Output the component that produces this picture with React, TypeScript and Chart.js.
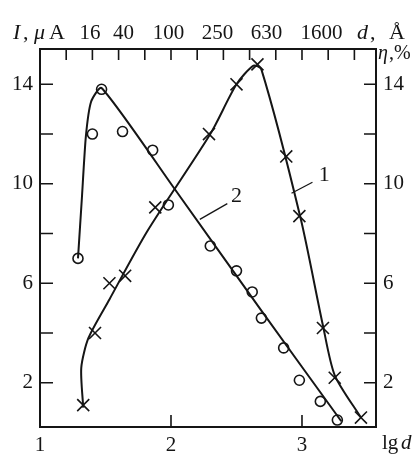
import React, { useEffect, useRef } from 'react';
import { Chart, registerables } from 'chart.js';

Chart.register(...registerables);

const INK = '#151515';
const SERIF = '"Liberation Serif", "DejaVu Serif", serif';

// Curve 1 — measured points (crosses)
const cross1X = [1.33, 1.42, 1.53, 1.65, 1.88, 2.29, 2.5, 2.66, 2.88, 2.98, 3.16, 3.25, 3.45];
const cross1Y = [1.1, 4.0, 6.0, 6.3, 9.05, 12.0, 14.0, 14.8, 11.1, 8.7, 4.2, 2.2, 0.6];
// Curve 1 — drawn line
const line1X = [1.33, 1.315, 1.37, 1.53, 1.82, 2.3, 2.5, 2.63, 2.69, 2.99, 3.16, 3.25, 3.45];
const line1Y = [1.0, 2.6, 3.8, 5.35, 8.1, 12.0, 14.0, 14.75, 14.6, 8.6, 4.3, 2.3, 0.6];

// Curve 2 — measured points (circles)
const circ2X = [1.29, 1.4, 1.47, 1.63, 1.86, 1.98, 2.3, 2.5, 2.62, 2.69, 2.86, 2.98, 3.14, 3.27];
const circ2Y = [7.0, 12.0, 13.8, 12.1, 11.35, 9.15, 7.5, 6.5, 5.65, 4.6, 3.4, 2.1, 1.25, 0.5];
// Curve 2 — drawn line
const line2X = [1.29, 1.32, 1.35, 1.39, 1.47, 2.02, 2.69, 3.3];
const line2Y = [7.0, 9.45, 11.9, 13.3, 13.85, 9.85, 4.9, 0.45];

// Axes
const X_MIN = 1;
const X_MAX = 3.565;
const Y_MIN = 0.22;
const Y_MAX = 15.42;
const yTickValues = [2, 4, 6, 8, 10, 12, 14];
const yLabelValues = [2, 6, 10, 14];
const xBottomLabels = [1, 2, 3];
const xBottomTickMarks = [2, 3];
const xTopTickMarks = [1.2, 1.4, 1.6, 1.8, 2.0, 2.2, 2.4, 2.6, 2.8, 3.0, 3.2, 3.4];
const topDLabels = ['16', '40', '100', '250', '630', '1600'];
const topDLabelCenters = [90, 123.5, 168.5, 217.5, 266.5, 321.5];

// Curve labels (data coordinates)
const curveLabels = [
  { text: '1', x: 3.17, y: 10.34, fromX: 2.92, fromY: 9.62, toX: 3.08, toY: 10.06 },
  { text: '2', x: 2.5, y: 9.5, fromX: 2.22, fromY: 8.57, toX: 2.43, toY: 9.2 },
];

const zip = (xs: number[], ys: number[]) => xs.map((x, i) => ({ x, y: ys[i] }));

const decorPlugin = {
  id: 'decor',
  afterDraw(chart: any) {
    const { ctx, chartArea: a, scales } = chart;
    const sx = scales.x;
    const sy = scales.y;
    ctx.save();
    ctx.strokeStyle = INK;
    ctx.fillStyle = INK;
    // frame
    ctx.lineWidth = 2;
    ctx.strokeRect(a.left, a.top, a.right - a.left, a.bottom - a.top);
    // inward ticks
    ctx.lineWidth = 1.6;
    ctx.beginPath();
    yTickValues.forEach((v) => {
      const py = sy.getPixelForValue(v);
      ctx.moveTo(a.left, py);
      ctx.lineTo(a.left + 13, py);
      ctx.moveTo(a.right, py);
      ctx.lineTo(a.right - 12, py);
    });
    xTopTickMarks.forEach((v) => {
      const px = sx.getPixelForValue(v);
      ctx.moveTo(px, a.top);
      ctx.lineTo(px, a.top + 11);
    });
    xBottomTickMarks.forEach((v) => {
      const px = sx.getPixelForValue(v);
      ctx.moveTo(px, a.bottom);
      ctx.lineTo(px, a.bottom - 12);
    });
    ctx.stroke();

    // curve labels with leaders
    ctx.lineWidth = 1.3;
    ctx.font = `22px ${SERIF}`;
    ctx.textAlign = 'center';
    ctx.textBaseline = 'middle';
    curveLabels.forEach((c) => {
      ctx.beginPath();
      ctx.moveTo(sx.getPixelForValue(c.fromX), sy.getPixelForValue(c.fromY));
      ctx.lineTo(sx.getPixelForValue(c.toX), sy.getPixelForValue(c.toY));
      ctx.stroke();
      ctx.fillText(c.text, sx.getPixelForValue(c.x), sy.getPixelForValue(c.y));
    });

    // top text row
    ctx.textBaseline = 'alphabetic';
    ctx.textAlign = 'left';
    const base = 39;
    ctx.font = `italic 22px ${SERIF}`;
    ctx.fillText('I', 13, base);
    ctx.font = `22px ${SERIF}`;
    ctx.fillText(',', 23, base);
    ctx.font = `italic 22px ${SERIF}`;
    ctx.fillText('\u03bc', 34, base);
    ctx.font = `22px ${SERIF}`;
    ctx.fillText('A', 49, base);
    ctx.textAlign = 'center';
    ctx.font = `21px ${SERIF}`;
    topDLabels.forEach((t, i) => ctx.fillText(t, topDLabelCenters[i], base));
    ctx.textAlign = 'left';
    ctx.font = `italic 22px ${SERIF}`;
    ctx.fillText('d', 357, base);
    ctx.font = `22px ${SERIF}`;
    ctx.fillText(',', 370, base);
    ctx.fillText('\u00c5', 389, base);

    // right axis title
    ctx.font = `italic 20px ${SERIF}`;
    ctx.fillText('\u03b7', 378, 59);
    ctx.font = `20px ${SERIF}`;
    ctx.fillText(',%', 389, 59);

    // bottom axis title
    ctx.font = `21px ${SERIF}`;
    ctx.fillText('lg', 382, 449);
    ctx.font = `italic 21px ${SERIF}`;
    ctx.fillText('d', 401, 449);
    ctx.restore();
  },
};

export default function App() {
  const ref = useRef<HTMLCanvasElement | null>(null);
  useEffect(() => {
    if (!ref.current) return;
    const tickFont = { family: SERIF, size: 21 };
    const chart = new Chart(ref.current, {
      type: 'scatter',
      data: {
        datasets: [
          {
            data: zip(line1X, line1Y),
            showLine: true,
            borderColor: INK,
            borderWidth: 2,
            pointRadius: 0,
            tension: 0.25,
          },
          {
            data: zip(line2X, line2Y),
            showLine: true,
            borderColor: INK,
            borderWidth: 2,
            pointRadius: 0,
            tension: 0.2,
          },
          {
            data: zip(cross1X, cross1Y),
            showLine: false,
            pointStyle: 'crossRot',
            pointRadius: 8.5,
            borderColor: INK,
            borderWidth: 1.6,
          },
          {
            data: zip(circ2X, circ2Y),
            showLine: false,
            pointStyle: 'circle',
            pointRadius: 5,
            borderColor: INK,
            backgroundColor: '#ffffff',
            borderWidth: 1.6,
          },
        ],
      },
      options: {
        responsive: false,
        animation: false,
        devicePixelRatio: 1,
        layout: { padding: { top: 49, left: 0, right: 0, bottom: 0 } },
        plugins: { legend: { display: false }, tooltip: { enabled: false } },
        scales: {
          x: {
            type: 'linear',
            position: 'bottom',
            min: X_MIN,
            max: X_MAX,
            grid: { display: false, drawTicks: false },
            border: { display: false },
            afterBuildTicks: (s: any) => {
              s.ticks = xBottomLabels.map((v) => ({ value: v }));
            },
            afterFit: (s: any) => {
              s.height = 28;
            },
            ticks: { font: tickFont, color: INK, padding: 6, maxRotation: 0, callback: (v: any) => String(v) },
          },
          y: {
            type: 'linear',
            position: 'left',
            min: Y_MIN,
            max: Y_MAX,
            grid: { display: false, drawTicks: false },
            border: { display: false },
            afterBuildTicks: (s: any) => {
              s.ticks = yLabelValues.map((v) => ({ value: v }));
            },
            afterFit: (s: any) => {
              s.width = 40;
            },
            ticks: { font: tickFont, color: INK, padding: 7, callback: (v: any) => String(v) },
          },
          y2: {
            type: 'linear',
            position: 'right',
            min: Y_MIN,
            max: Y_MAX,
            grid: { display: false, drawTicks: false },
            border: { display: false },
            afterBuildTicks: (s: any) => {
              s.ticks = yLabelValues.map((v) => ({ value: v }));
            },
            afterFit: (s: any) => {
              s.width = 44;
            },
            ticks: { font: tickFont, color: INK, padding: 7, callback: (v: any) => String(v) },
          },
        },
      },
      plugins: [decorPlugin],
    });
    return () => chart.destroy();
  }, []);
  return (
    <div style={{ position: 'fixed', left: 0, top: 0, width: 420, height: 455, background: '#fff' }}>
      <canvas ref={ref} width={420} height={455} style={{ display: 'block' }} />
    </div>
  );
}
